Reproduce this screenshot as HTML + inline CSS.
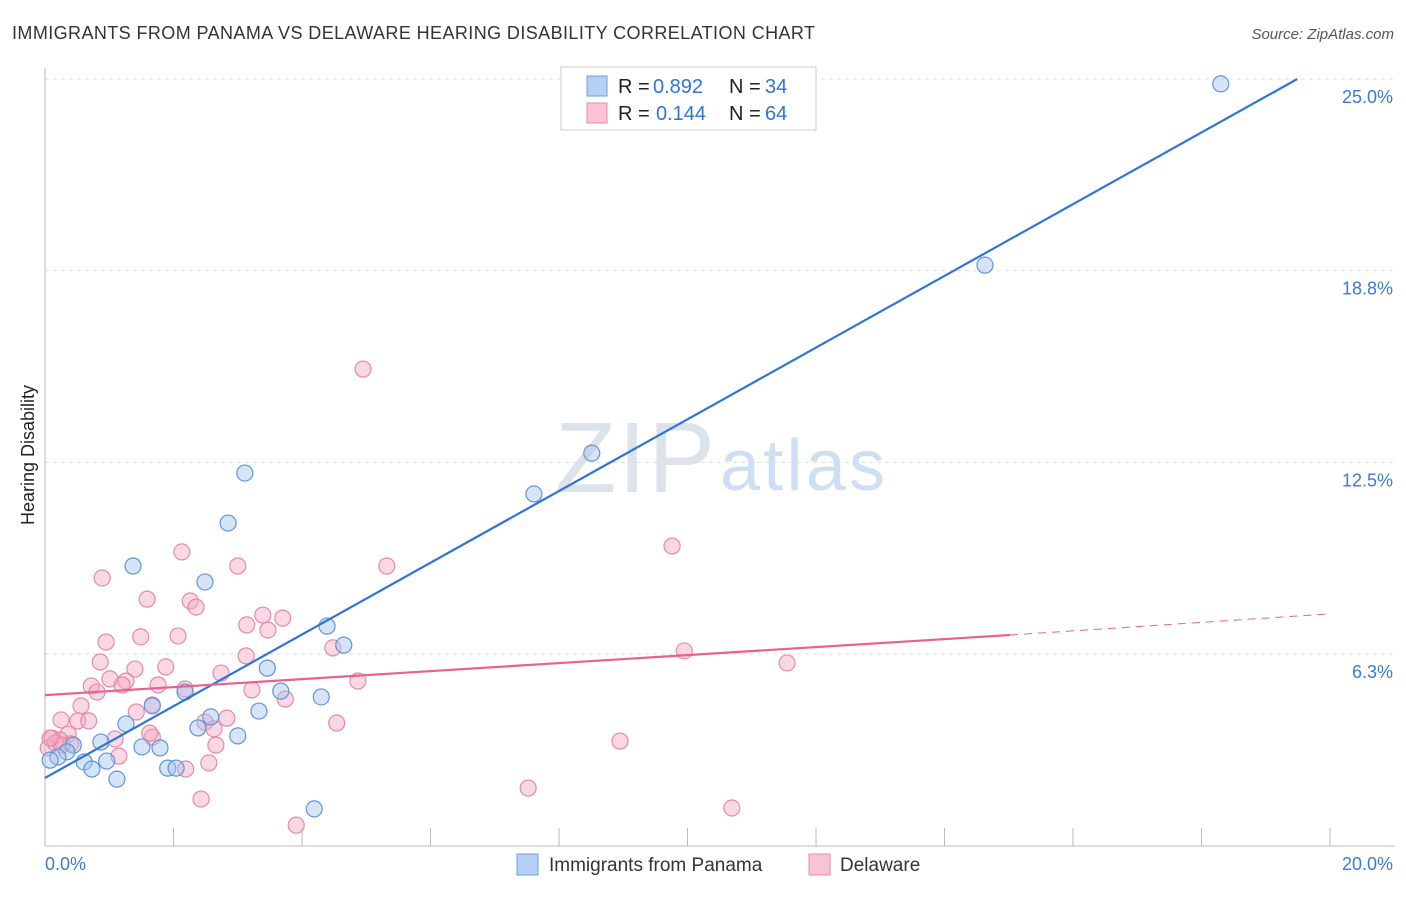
<!DOCTYPE html>
<html><head><meta charset="utf-8"><style>
body{margin:0;background:#fff;font-family:"Liberation Sans",sans-serif;}
svg text{font-family:"Liberation Sans",sans-serif;}
</style></head><body>
<svg id="chart" width="1406" height="892" xmlns="http://www.w3.org/2000/svg">
<text x="12" y="39" font-size="18" fill="#333" textLength="803">IMMIGRANTS FROM PANAMA VS DELAWARE HEARING DISABILITY CORRELATION CHART</text>
<text x="1394" y="39" font-size="15" fill="#555" font-style="italic" text-anchor="end">Source: ZipAtlas.com</text>
<g id="grid"></g>
<text x="715" y="492" font-size="100" fill="#dde3ea" text-anchor="end" font-family="Liberation Serif" textLength="160">ZIP</text>
<text x="720" y="490" font-size="72" fill="#cfdff3" textLength="165">atlas</text>
<text transform="translate(34,455) rotate(-90)" font-size="18" fill="#222" text-anchor="middle">Hearing Disability</text>
<g id="marks"></g>
<g>
<rect x="561" y="67" width="255" height="63" fill="#fff" stroke="#ccc"/>
<rect x="587" y="76" width="20" height="20" fill="#b5d0f4" stroke="#6a9fdc"/>
<rect x="587" y="103" width="20" height="20" fill="#f9c4d4" stroke="#e88aa8"/>
<g font-size="20" fill="#222">
<text x="618" y="93">R =</text><text x="653" y="93" fill="#2f74d8">0.892</text><text x="729" y="93">N =</text><text x="765" y="93" fill="#2f74d8">34</text></g>
<g font-size="20" fill="#222">
<text x="618" y="120">R =</text><text x="656" y="120" fill="#2f74d8">0.144</text><text x="729" y="120">N =</text><text x="765" y="120" fill="#2f74d8">64</text></g>
</g>
<g>
<rect x="517" y="854" width="21" height="21" fill="#b5d0f4" stroke="#6a9fdc"/>
<text x="549" y="871" font-size="19" fill="#333">Immigrants from Panama</text>
<rect x="809" y="854" width="21" height="21" fill="#f9c4d4" stroke="#e88aa8"/>
<text x="840" y="871" font-size="19" fill="#333">Delaware</text>
</g>
</svg>
<script>
const yTicks=[25.0,18.8,12.5,6.3];
const yTickVals=[25,18.75,12.5,6.25];
const xTickLabels=["0.0%","20.0%"];
const blueX=[18.30,14.63,8.51,7.61,3.11,2.85,1.37,2.49,4.39,4.65,3.46,3.67,4.30,2.18,1.67,3.33,2.58,1.26,2.38,3.00,0.87,1.51,1.79,0.44,0.34,0.20,0.08,0.61,0.96,0.73,1.91,2.04,1.12,4.19];
const blueY=[24.84,18.93,12.80,11.47,12.15,10.52,9.12,8.60,7.16,6.54,5.79,5.04,4.85,5.01,4.56,4.39,4.20,3.97,3.84,3.58,3.38,3.22,3.19,3.28,3.06,2.89,2.79,2.73,2.76,2.50,2.53,2.53,2.17,1.20];
const pinkX=[4.95,9.76,2.13,5.32,0.89,3.00,1.59,2.26,2.35,3.39,3.70,3.14,3.47,0.95,1.49,2.07,4.48,9.95,3.13,11.55,0.86,1.40,1.88,2.74,1.01,1.26,0.72,1.20,1.76,2.18,4.87,3.22,0.81,3.74,1.67,0.56,1.42,0.25,0.51,0.68,2.49,2.83,4.54,2.63,0.11,0.36,0.23,1.09,1.67,0.40,0.05,0.16,8.95,2.66,1.15,2.55,2.19,7.52,2.43,10.69,3.91,0.26,1.63,0.08];
const pinkY=[15.54,9.77,9.58,9.12,8.73,9.12,8.04,7.98,7.78,7.52,7.42,7.20,7.03,6.64,6.81,6.84,6.45,6.35,6.19,5.96,5.99,5.76,5.83,5.63,5.44,5.37,5.21,5.24,5.24,5.11,5.37,5.08,5.01,4.78,4.59,4.56,4.36,4.10,4.07,4.07,4.03,4.16,4.00,3.81,3.51,3.64,3.45,3.48,3.54,3.32,3.19,3.35,3.41,3.28,2.92,2.70,2.50,1.88,1.52,1.23,0.67,3.28,3.67,3.51];
const blueTrend=[[0,2.21],[19.49,25.0]];
const pinkTrend=[[0,4.91],[15.02,6.87]];
const pinkDash=[[15.02,6.87],[20,7.56]];
const NS="http://www.w3.org/2000/svg";
const X=v=>45+v/20*1285;
const Y=v=>845.7-v/25*766.7;
const grid=document.getElementById('grid');
const marks=document.getElementById('marks');
function mk(tag,attrs,parent){const e=document.createElementNS(NS,tag);for(const k in attrs)e.setAttribute(k,attrs[k]);parent.appendChild(e);return e;}
yTickVals.forEach((v,i)=>{
  const l=mk('line',{x1:45,x2:1395,y1:Y(v),y2:Y(v),stroke:'#ddd','stroke-dasharray':'4,4'},grid);
  
  
  const t=mk('text',{x:1393,y:Y(v)+24,'font-size':18,fill:'#3a7bd5','text-anchor':'end'},grid);
  t.textContent=yTicks[i].toFixed(1)+'%';
  
  
});
const ax=mk('line',{x1:45,x2:45,y1:68,y2:846,stroke:'#bbb'},grid);


const bx=mk('line',{x1:45,x2:1395,y1:846,y2:846,stroke:'#bbb'},grid);


for(let i=0;i<=10;i++){
  const t=mk('line',{x1:X(i*2),x2:X(i*2),y1:828,y2:846,stroke:'#bbb'},grid);
  
  
}
[[0,'start',45],[20,'end',1393]].forEach((d,i)=>{
  const t=mk('text',{x:d[2],y:870,'font-size':18,fill:'#3a7bd5','text-anchor':d[1]},grid);
  t.textContent=xTickLabels[i];
  
  
});
function pts(xs,ys,fill,stroke,name){
  xs.forEach((x,i)=>{
    const c=mk('circle',{cx:X(x),cy:Y(ys[i]),r:8,fill:fill,'fill-opacity':0.45,stroke:stroke,'stroke-width':1.2},marks);
    
    
  });
}
pts(pinkX,pinkY,'#f5a9c0','#e58aa8','delaware-point');
pts(blueX,blueY,'#a3c4f0','#5f96d8','panama-point');
function line(p,color,name,dash){
  const l=mk('line',{x1:X(p[0][0]),y1:Y(p[0][1]),x2:X(p[1][0]),y2:Y(p[1][1]),stroke:color,'stroke-width':dash?1:2.2},marks);
  if(dash)l.setAttribute('stroke-dasharray','8,6');
  
  
}
line(blueTrend,'#2f74d8','panama-trend-line');
line(pinkTrend,'#e8628f','delaware-trend-line');
line(pinkDash,'#e8628f','delaware-trend-extension',true);
</script>
</body></html>
